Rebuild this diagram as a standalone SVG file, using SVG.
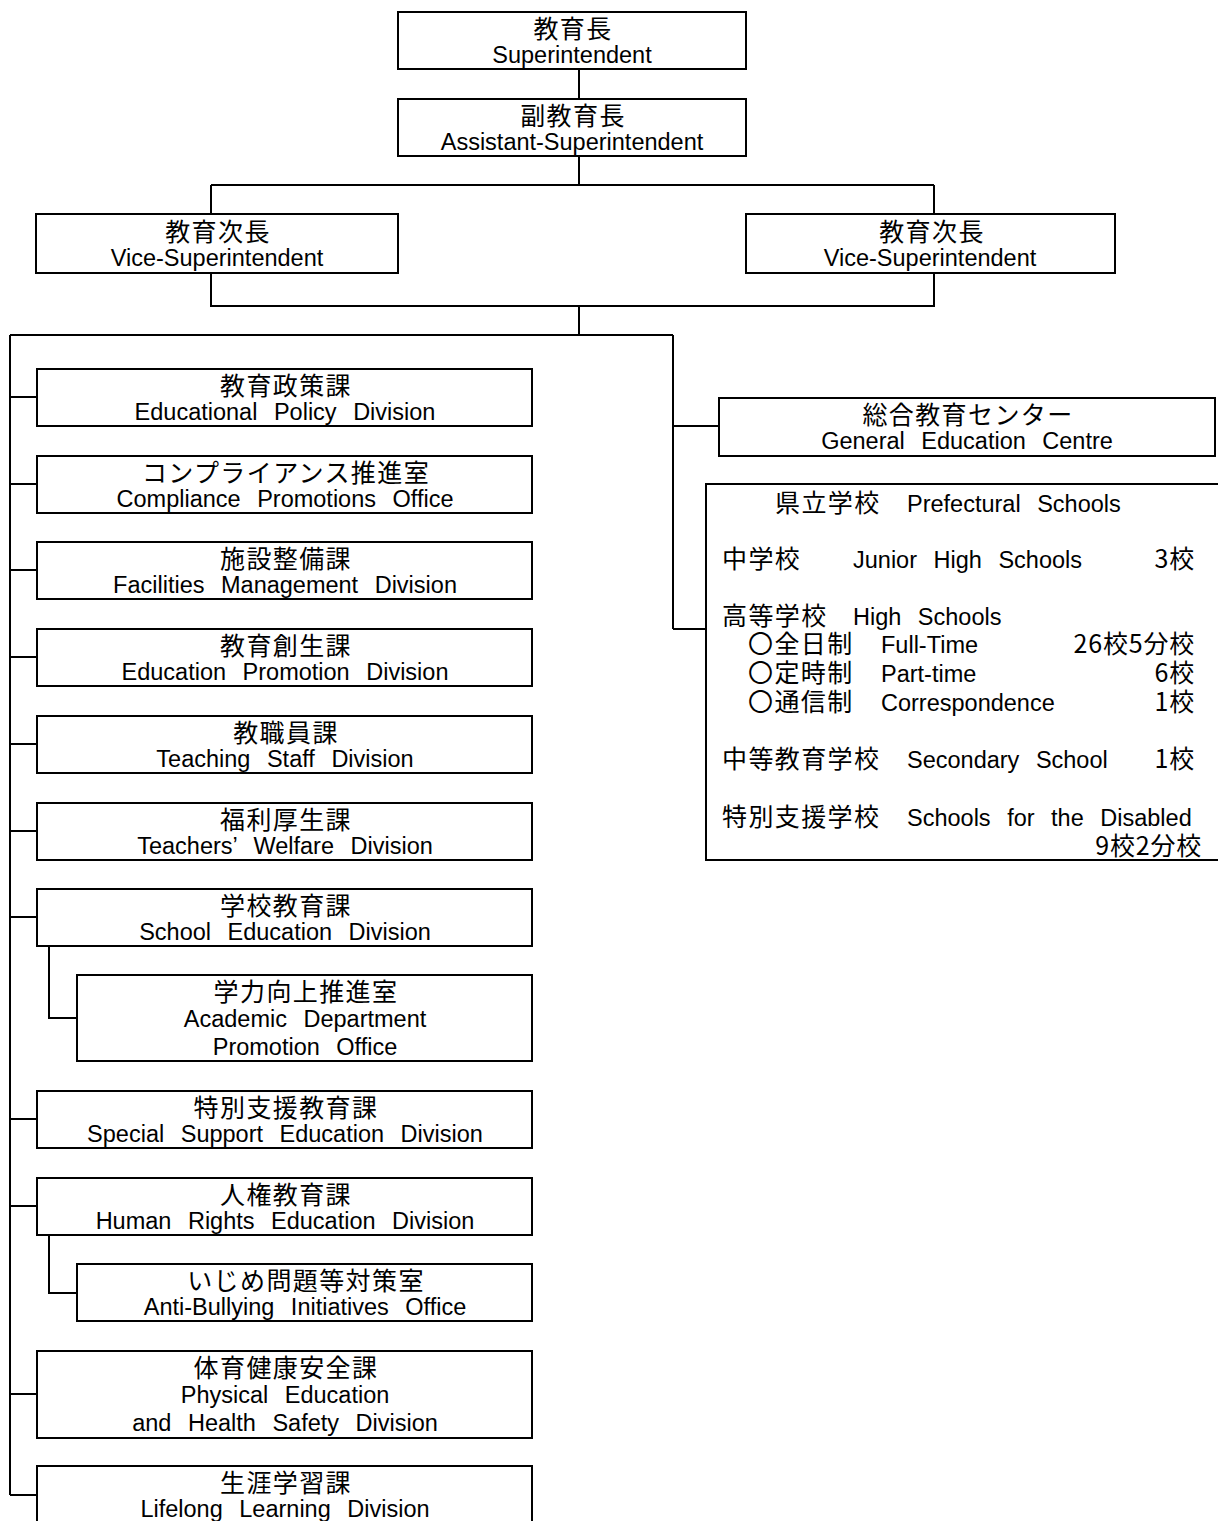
<svg xmlns="http://www.w3.org/2000/svg" width="1218" height="1521" viewBox="0 0 1218 1521">
<style>
.box{fill:#fff;stroke:#000;stroke-width:2}
.ln{stroke:#000;stroke-width:2;fill:none}
.jp{font-family:"Noto Sans CJK JP","Noto Sans CJK SC",sans-serif;font-size:25px;letter-spacing:1.4px;fill:#000}
.jn{font-family:"Noto Sans CJK JP","Noto Sans CJK SC",sans-serif;font-size:25px;letter-spacing:0.8px;fill:#000}
.en{font-family:"Liberation Sans",Arial,sans-serif;font-size:23.5px;word-spacing:10px;fill:#000}
.c{text-anchor:middle}
.r{text-anchor:end}
</style>
<rect width="1218" height="1521" fill="#fff"/>
<g id="connectors" class="ln">
<path d="M579 69V99M579 156V185M211 185H934M211 185V214M934 185V214M211 273V306H934V273M579 306V335M10 335H673M10 335V1495M673 335V629M673 426H719M673 629H706"/>
<path d="M10 397H37M10 484H37M10 570H37M10 657H37M10 744H37M10 831H37M10 917H37M10 1119H37M10 1206H37M10 1394H37M10 1495H37"/>
<path d="M49 946V1018H77M49 1235V1293H77"/>
</g>
<g id="n-superintendent"><rect class="box" x="398" y="12" width="348" height="57"/><text class="jp c" x="573" y="38">教育長</text><text class="en c" x="572" y="63">Superintendent</text></g>
<g id="n-assistant"><rect class="box" x="398" y="99" width="348" height="57"/><text class="jp c" x="573" y="125">副教育長</text><text class="en c" x="572" y="150">Assistant-Superintendent</text></g>
<g id="n-vice-left"><rect class="box" x="36" y="214" width="362" height="59"/><text class="jp c" x="218" y="241">教育次長</text><text class="en c" x="217" y="266">Vice-Superintendent</text></g>
<g id="n-vice-right"><rect class="box" x="746" y="214" width="369" height="59"/><text class="jp c" x="932" y="241">教育次長</text><text class="en c" x="930" y="266">Vice-Superintendent</text></g>
<g id="n-policy"><rect class="box" x="37" y="369" width="495" height="57"/><text class="jp c" x="286" y="395">教育政策課</text><text class="en c" x="285" y="420">Educational Policy Division</text></g>
<g id="n-compliance"><rect class="box" x="37" y="456" width="495" height="57"/><text class="jp c" x="286" y="482">コンプライアンス推進室</text><text class="en c" x="285" y="507">Compliance Promotions Office</text></g>
<g id="n-facilities"><rect class="box" x="37" y="542" width="495" height="57"/><text class="jp c" x="286" y="568">施設整備課</text><text class="en c" x="285" y="593">Facilities Management Division</text></g>
<g id="n-promotion"><rect class="box" x="37" y="629" width="495" height="57"/><text class="jp c" x="286" y="655">教育創生課</text><text class="en c" x="285" y="680">Education Promotion Division</text></g>
<g id="n-staff"><rect class="box" x="37" y="716" width="495" height="57"/><text class="jp c" x="286" y="742">教職員課</text><text class="en c" x="285" y="767">Teaching Staff Division</text></g>
<g id="n-welfare"><rect class="box" x="37" y="803" width="495" height="57"/><text class="jp c" x="286" y="829">福利厚生課</text><text class="en c" x="285" y="854">Teachers’ Welfare Division</text></g>
<g id="n-school-edu"><rect class="box" x="37" y="889" width="495" height="57"/><text class="jp c" x="286" y="915">学校教育課</text><text class="en c" x="285" y="940">School Education Division</text></g>
<g id="n-academic"><rect class="box" x="77" y="975" width="455" height="86"/><text class="jp c" x="306" y="1001">学力向上推進室</text><text class="en c" x="305" y="1027">Academic Department</text><text class="en c" x="305" y="1055">Promotion Office</text></g>
<g id="n-special"><rect class="box" x="37" y="1091" width="495" height="57"/><text class="jp c" x="286" y="1117">特別支援教育課</text><text class="en c" x="285" y="1142">Special Support Education Division</text></g>
<g id="n-human-rights"><rect class="box" x="37" y="1178" width="495" height="57"/><text class="jp c" x="286" y="1204">人権教育課</text><text class="en c" x="285" y="1229">Human Rights Education Division</text></g>
<g id="n-bullying"><rect class="box" x="77" y="1264" width="455" height="57"/><text class="jp c" x="306" y="1290">いじめ問題等対策室</text><text class="en c" x="305" y="1315">Anti-Bullying Initiatives Office</text></g>
<g id="n-physical"><rect class="box" x="37" y="1351" width="495" height="87"/><text class="jp c" x="286" y="1377">体育健康安全課</text><text class="en c" x="285" y="1403">Physical Education</text><text class="en c" x="285" y="1431">and Health Safety Division</text></g>
<g id="n-lifelong"><rect class="box" x="37" y="1466" width="495" height="70"/><text class="jp c" x="286" y="1492">生涯学習課</text><text class="en c" x="285" y="1517">Lifelong Learning Division</text></g>
<g id="n-general"><rect class="box" x="719" y="398" width="496" height="58"/><text class="jp c" x="968" y="424">総合教育センター</text><text class="en c" x="967" y="449">General Education Centre</text></g>
<g id="n-schools"><rect class="box" x="706" y="484" width="530" height="376"/>
<text class="jp" x="775" y="512">県立学校</text><text class="en" x="907" y="512">Prefectural Schools</text>
<text class="jp" x="722" y="568">中学校</text><text class="en" x="853" y="568">Junior High Schools</text><text class="jn r" x="1195" y="568">3校</text>
<text class="jp" x="722" y="625">高等学校</text><text class="en" x="853" y="625">High Schools</text>
<text class="jp" x="748" y="653">〇全日制</text><text class="en" x="881" y="653">Full-Time</text><text class="jn r" x="1195" y="653">26校5分校</text>
<text class="jp" x="748" y="682">〇定時制</text><text class="en" x="881" y="682">Part-time</text><text class="jn r" x="1195" y="682">6校</text>
<text class="jp" x="748" y="711">〇通信制</text><text class="en" x="881" y="711">Correspondence</text><text class="jn r" x="1195" y="711">1校</text>
<text class="jp" x="722" y="768">中等教育学校</text><text class="en" x="907" y="768">Secondary School</text><text class="jn r" x="1195" y="768">1校</text>
<text class="jp" x="722" y="826">特別支援学校</text><text class="en" x="907" y="826">Schools for the Disabled</text>
<text class="jn r" x="1202" y="855">9校2分校</text>
</g>
</svg>
